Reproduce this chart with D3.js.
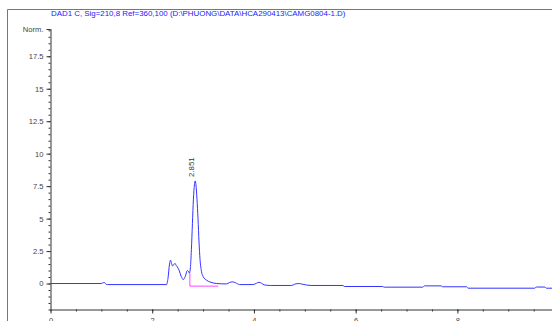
<!DOCTYPE html>
<html>
<head>
<meta charset="utf-8">
<script src="https://cdn.jsdelivr.net/npm/d3@7"></script>
<style>
  body { margin: 0; background: #fff; }
  svg { display: block; font-family: "Liberation Sans", Arial, sans-serif; }
</style>
</head>
<body>
<div id="chart"></div>
<script>
// chromatogram readings (time in min, signal in Norm.)
var times = [0, 1.0, 1.03, 1.06, 1.09, 1.12, 2.28, 2.31, 2.34, 2.36, 2.38, 2.40, 2.43, 2.45, 2.47, 2.49,
  2.53, 2.57, 2.61, 2.65, 2.69, 2.71, 2.73, 2.75, 2.77, 2.79, 2.81, 2.83, 2.845, 2.86, 2.88, 2.90,
  2.92, 2.94, 2.97, 3.00, 3.07, 3.15, 3.27, 3.46, 3.52, 3.58, 3.64, 3.72, 3.98, 4.05, 4.10, 4.15,
  4.20, 4.33, 4.74, 4.80, 4.89, 4.95, 5.12, 5.75, 5.78, 6.53, 6.56, 7.32, 7.35, 7.68, 7.71, 8.18,
  8.21, 9.52, 9.55, 9.72, 9.75, 9.9];
var signal = [0, 0, 0.05, 0.08, -0.05, -0.08, -0.08, 0.4, 1.5, 1.8, 1.55, 1.35, 1.5, 1.55, 1.4, 1.3,
  1.0, 0.55, 0.3, 0.55, 1.0, 0.95, 0.8, 1.2, 2.6, 4.6, 6.5, 7.6, 7.9, 7.6, 6.5, 5.0,
  3.2, 1.85, 0.9, 0.55, 0.25, 0.1, 0, -0.03, 0.08, 0.13, 0.05, -0.08, -0.08, 0.02, 0.1, 0.02,
  -0.1, -0.15, -0.15, -0.05, 0, -0.05, -0.15, -0.15, -0.23, -0.23, -0.28, -0.28, -0.18, -0.18, -0.25, -0.25,
  -0.36, -0.36, -0.27, -0.27, -0.36, -0.36];

// integration baseline of the main peak
var baseTimes = [2.74, 2.74, 3.30];
var baseValues = [0.8, -0.2, -0.2];

var peakTime = 2.851;
var peakHeight = 7.9;
var yTicks = [0, 2.5, 5, 7.5, 10, 12.5, 15, 17.5];
var xTicks = [0, 2, 4, 6, 8];
var title = "DAD1 C, Sig=210,8 Ref=360,100 (D:\\PHUONG\\DATA\\HCA290413\\CAMG0804-1.D)";

var width = 552, height = 321;

var svg = d3.select('#chart').append('svg')
  .attr('width', width)
  .attr('height', height);

var x = d3.scaleLinear().domain([0, 9.86]).range([50.5, 552]);
var y = d3.scaleLinear().domain([-2, 19.6]).range([309.5, 29]);

// outer frame (top + left)
svg.append('path')
  .attr('d', 'M7.5,' + height + 'V9.5H' + width)
  .attr('fill', 'none')
  .attr('stroke', '#777')
  .attr('stroke-width', 1);

svg.append('text')
  .attr('x', 51)
  .attr('y', 16)
  .attr('fill', '#2020ff')
  .style('font-size', '7.9px')
  .text(title);

// y axis
var yMinor = svg.append('g')
  .attr('transform', 'translate(50.5,0)')
  .call(d3.axisLeft(y).tickValues(d3.range(-2, 19.6, 0.5)).tickSize(2).tickFormat(''));
yMinor.select('.domain').remove();

var yAxis = svg.append('g')
  .attr('transform', 'translate(50.5,0)')
  .call(d3.axisLeft(y).tickValues(yTicks.concat([19.6])).tickSize(4).tickPadding(3)
    .tickFormat(function(d){ return d === 19.6 ? 'Norm.' : d; }));
yAxis.select('.domain').attr('d', 'M0.5,' + y(-2) + 'V' + y(19.6)).attr('stroke', '#333');

// x axis
var xMinor = svg.append('g')
  .attr('transform', 'translate(0,' + y(-2) + ')')
  .call(d3.axisBottom(x).tickValues(d3.range(0, 9.9, 0.5)).tickSize(2).tickFormat(''));
xMinor.select('.domain').remove();

var xAxis = svg.append('g')
  .attr('transform', 'translate(0,' + y(-2) + ')')
  .call(d3.axisBottom(x).tickValues(xTicks).tickSize(4).tickPadding(4));
xAxis.select('.domain').attr('d', 'M' + x(0) + ',0.5H' + width).attr('stroke', '#333');

svg.selectAll('.tick line').attr('stroke', '#333');
svg.selectAll('.tick text').attr('fill', '#444').style('font-size', '7.6px').style('font-family', '"Liberation Sans", Arial, sans-serif');

svg.append('text')
  .attr('x', 546)
  .attr('y', y(-2) + 15)
  .attr('fill', '#444')
  .style('font-size', '7.6px')
  .text('min');

// signal
var pts = times.map(function(t, i){ return [t, signal[i]]; });
var line = d3.line()
  .x(function(d){ return x(d[0]); })
  .y(function(d){ return y(d[1]); })
  .curve(d3.curveMonotoneX);

svg.append('path')
  .datum(pts)
  .attr('d', line)
  .attr('fill', 'none')
  .attr('stroke', '#3434ff')
  .attr('stroke-width', 1);

var basePts = baseTimes.map(function(t, i){ return [t, baseValues[i]]; });
svg.append('path')
  .datum(basePts)
  .attr('d', d3.line().x(function(d){ return x(d[0]); }).y(function(d){ return y(d[1]); }))
  .attr('fill', 'none')
  .attr('stroke', '#ff44ff')
  .attr('stroke-width', 1);

// retention time label
svg.append('text')
  .attr('transform', 'translate(' + (x(peakTime) - 2) + ',' + (y(peakHeight) - 4) + ') rotate(-90)')
  .attr('fill', '#333')
  .style('font-size', '7.8px')
  .text(peakTime.toFixed(3));
</script>
</body>
</html>
